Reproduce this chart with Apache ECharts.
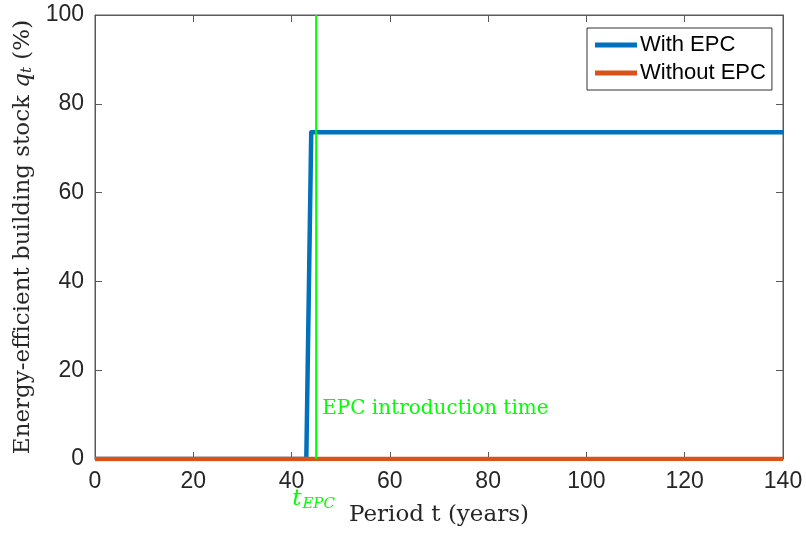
<!DOCTYPE html>
<html><head><meta charset="utf-8">
<script src="https://cdn.jsdelivr.net/npm/echarts@6/dist/echarts.min.js"></script>
<style>html,body{margin:0;padding:0;background:#fff}#c{width:806px;height:533px}</style>
</head><body><div id="c"></div>
<script>
// Data
const periodsWith = [0, 43, 44, 140];
const valuesWith = [0, 0, 73.6, 73.6];
const periodsWithout = [0, 140];
const valuesWithout = [0, 0];
const epcTime = 45;
const xTicks = [0, 20, 40, 60, 80, 100, 120, 140];
const yTicks = [0, 20, 40, 60, 80, 100];

const BLUE = '#0072BD', ORANGE = '#D95319', GREEN = '#00FF00', AX = '#5a5a5a';
const SANS = 'Liberation Sans, Arial, sans-serif';
const SERIF = 'DejaVu Serif, serif';

const chart = echarts.init(document.getElementById('c'), null, {renderer: 'canvas'});
const axisCommon = {
  axisLine: {show: true, onZero: false, lineStyle: {color: AX, width: 1}},
  axisTick: {show: true, inside: true, length: 7, lineStyle: {color: AX}},
  splitLine: {show: false}
};
const option = {
  animation: false,
  backgroundColor: '#fff',
  grid: {left: 95, right: 23, top: 15, bottom: 74, show: true, borderColor: AX, borderWidth: 1},
  legend: {
    data: ['With EPC', 'Without EPC'],
    left: 587, top: 28, orient: 'vertical',
    icon: 'rect', itemWidth: 42, itemHeight: 5, itemGap: 6,
    padding: [6, 6, 6, 8],
    borderColor: '#333', borderWidth: 1, backgroundColor: '#fff',
    textStyle: {fontFamily: SANS, fontSize: 22, color: '#000', padding: [0,0,0,-2]}
  },
  xAxis: [{
    type: 'value', min: 0, max: 140, interval: 20, position: 'bottom',
    ...axisCommon,
    axisLabel: {fontFamily: SANS, fontSize: 23, color: '#262626', margin: 11},
    name: 'Period t (years)', nameLocation: 'middle', nameGap: 45,
    nameTextStyle: {fontFamily: SERIF, fontSize: 23, color: '#262626'}
  }, {
    type: 'value', min: 0, max: 140, interval: 20, position: 'top',
    ...axisCommon, axisLabel: {show: false}
  }],
  yAxis: [{
    type: 'value', min: 0, max: 100, interval: 20, position: 'left',
    ...axisCommon,
    axisLabel: {fontFamily: SANS, fontSize: 23, color: '#262626', margin: 11},
    name: '{n|Energy-efficient building stock }{i|q}{s|t}{n| (%)}',
    nameLocation: 'middle', nameGap: 57,
    nameTextStyle: {
      rich: {
        n: {fontFamily: SERIF, fontSize: 23, color: '#262626'},
        i: {fontFamily: SERIF, fontStyle: 'italic', fontSize: 23, color: '#262626'},
        s: {fontFamily: SERIF, fontStyle: 'italic', fontSize: 15, color: '#262626', verticalAlign: 'bottom', padding: [8,0,0,0]}
      }
    }
  }, {
    type: 'value', min: 0, max: 100, interval: 20, position: 'right',
    ...axisCommon, axisLabel: {show: false}
  }],
  series: [{
    name: 'With EPC', type: 'line', showSymbol: false, symbol: 'none',
    data: periodsWith.map((p, i) => [p, valuesWith[i]]),
    lineStyle: {color: BLUE, width: 4.5, join: 'round', cap: 'butt'}, itemStyle: {color: BLUE}, z: 3
  }, {
    name: 'Without EPC', type: 'line', showSymbol: false, symbol: 'none',
    data: periodsWithout.map((p, i) => [p, valuesWithout[i]]),
    lineStyle: {color: ORANGE, width: 4.5}, itemStyle: {color: ORANGE}, z: 4
  }, {
    name: 'EPC', type: 'line', showSymbol: false, symbol: 'none',
    data: [[epcTime, 0], [epcTime, 100]],
    lineStyle: {color: GREEN, width: 2}, z: 5, silent: true
  }]
};
chart.setOption(option);

const pBase = chart.convertToPixel({xAxisIndex: 0, yAxisIndex: 0}, [epcTime, 0]);
const pTxt = chart.convertToPixel({xAxisIndex: 0, yAxisIndex: 0}, [epcTime, 12]);
chart.setOption({
  graphic: [{
    type: 'text', left: pTxt[0] + 6, top: pTxt[1] - 7,
    style: {text: 'EPC introduction time', fontFamily: SERIF, fontSize: 20, fill: GREEN}
  }, {
    type: 'text', left: pBase[0] - 24, top: pBase[1] + 29,
    style: {
      text: '{t|t}{s|EPC}',
      rich: {
        t: {fontFamily: SERIF, fontStyle: 'italic', fontSize: 23, fill: GREEN, color: GREEN},
        s: {fontFamily: SERIF, fontStyle: 'italic', fontSize: 15, fill: GREEN, color: GREEN, verticalAlign: 'bottom', padding: [10,0,0,1]}
      }
    }
  }]
});
</script></body></html>
